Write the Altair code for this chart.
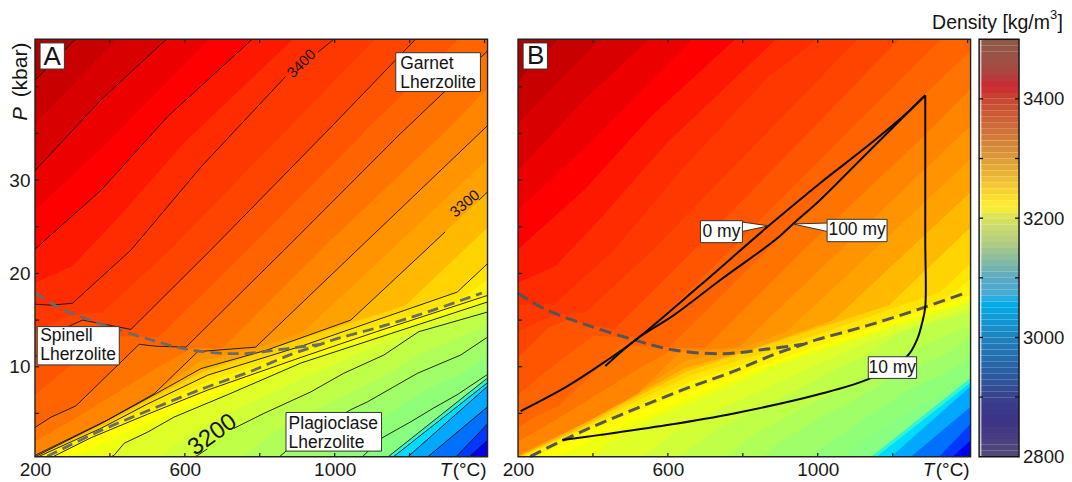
import altair as alt
import pandas as pd

FONT = "Liberation Sans"
T_DOM = [200, 1408]
P_DOM = [0.35, 45.1]

# ---- isopycnals: (T in deg C, P in kbar)
c3000 = [(200, -30), (1420, -30)]
c3025 = [(200, -24), (1358, 0.3), (1405, 2.0), (1420, 2.6)]
c3050 = [(200, -23), (1323, 0.3), (1405, 3.75), (1420, 4.4)]
c3075 = [(200, -22), (1247, 0.3), (1405, 5.6), (1420, 6.1)]
c3100 = [(200, -21), (1194, 0.3), (1405, 7.8), (1420, 8.3)]
c3112 = [(200, -20), (1155, 0.3), (1405, 8.2), (1420, 8.6)]
c3125 = [(200, -19), (1141, 0.3), (1405, 8.7), (1420, 9.0)]
c3150 = [(200, -15), (1074, 0.35), (1123, 2.3), (1203, 4.1), (1265, 5.6), (1327, 7.0), (1405, 9.1), (1420, 9.4)]
c3162 = [(200, -14), (962, 0.0), (1100, 3.8), (1240, 7.5), (1330, 9.1), (1420, 11.4)]
c3175 = [(200, -12), (851, 0.3), (900, 2.0), (1043, 5.4), (1088, 6.25), (1221, 9.3), (1336, 11.25), (1405, 13.1), (1420, 13.5)]
c3187 = [(200, -10), (740, 0.0), (840, 3.0), (1000, 6.4), (1130, 9.0), (1230, 11.4), (1420, 14.7)]
c3200 = [(200, -8), (634, 0.5), (660, 1.2), (731, 3.4), (811, 5.0), (936, 7.3), (1024, 9.3), (1131, 11.25), (1224, 13.75), (1420, 16.0)]
c3212 = [(200, -5), (520, 0.0), (620, 3.0), (730, 5.3), (930, 9.0), (1130, 12.6), (1420, 16.5)]
c3225 = [(200, -3), (411, 0.5), (438, 1.8), (501, 3.0), (571, 4.6), (714, 7.0), (910, 10.4), (1420, 17.1)]
c3237 = [(200, -1), (330, 0.9), (500, 4.0), (714, 7.6), (910, 10.7), (1420, 17.4)]
c3250 = [(200, -0.5), (230, 0.0), (350, 2.4), (500, 4.9), (661, 7.5), (910, 11.0), (1100, 13.6), (1420, 17.8)]
c3262 = [(200, 0.1), (360, 3.0), (500, 5.5), (660, 8.4), (914, 11.8), (1330, 17.0), (1420, 19.7)]
c3275 = [(200, 0.2), (376, 3.4), (500, 6.0), (661, 9.1), (918, 12.3), (1327, 18.0), (1420, 21.5)]
c3287 = [(200, 0.3), (376, 3.6), (500, 6.4), (650, 9.5), (860, 12.3), (1190, 16.6), (1420, 25.4)]
c3300 = [(200, 0.35), (376, 3.9), (509, 6.8), (643, 9.8), (820, 11.8), (1043, 15.0), (1243, 22.5), (1295, 24.46), (1385, 27.85), (1420, 29.2)]
c3312 = [(200, 0.45), (376, 4.1), (509, 7.0), (643, 10.6), (800, 12.1), (915, 13.7), (1150, 22.5), (1420, 32.7)]
c3325 = [(200, 0.5), (394, 4.3), (518, 7.1), (634, 11.6), (660, 11.7), (789, 12.1), (1060, 22.5), (1420, 36.3)]
c3337 = [(200, 2.0), (300, 4.3), (394, 6.6), (518, 9.7), (620, 12.0), (700, 12.0), (962, 22.5), (1290, 35.0), (1420, 40.3)]
c3350 = [(200, 3.5), (243, 4.6), (309, 5.8), (478, 12.4), (523, 12.2), (603, 12.1), (865, 22.5), (1176, 35.0), (1420, 44.3)]
c3362 = [(200, 7.0), (290, 10.0), (400, 13.3), (530, 13.2), (767, 22.5), (1100, 36.0), (1330, 45.1), (1350, 46)]
c3375 = [(200, 11.0), (278, 14.1), (327, 15.0), (456, 14.0), (669, 22.5), (998, 36.0), (1216, 45.1), (1240, 46)]
c3387 = [(200, 13.8), (300, 15.6), (380, 15.8), (560, 22.5), (1107, 45.1), (1130, 46)]
c3400 = [(200, 16.7), (243, 16.6), (300, 16.8), (456, 22.5), (643, 31.4), (869, 41.1), (955, 43.7), (998, 45.1), (1020, 46)]
c3412 = [(200, 19.0), (300, 20.8), (416, 25.7), (598, 34.0), (889, 45.1), (910, 46)]
c3425 = [(200, 22.6), (376, 28.9), (554, 36.8), (780, 45.1), (800, 46)]
c3437 = [(200, 26.8), (380, 33.5), (665, 45.1), (690, 46)]
c3450 = [(200, 31.0), (376, 38.6), (551, 45.1), (570, 46)]
c3462 = [(200, 36.0), (290, 39.8), (440, 46)]
c3475 = [(200, 40.7), (330, 46)]

band_lines = [c3000, c3025, c3050, c3075, c3100, c3112, c3125, c3150, c3162, c3175, c3187, c3200,
              c3212, c3225, c3237, c3250, c3262, c3275, c3287, c3300, c3312, c3325, c3337, c3350,
              c3362, c3375, c3387, c3400, c3412, c3425, c3437, c3450, c3462, c3475]
band_levels = [3000, 3025, 3050, 3075, 3100, 3112, 3125, 3150, 3162, 3175, 3187, 3200,
               3212, 3225, 3237, 3250, 3262, 3275, 3287, 3300, 3312, 3325, 3337, 3350,
               3362, 3375, 3387, 3400, 3412, 3425, 3437, 3450, 3462, 3475]
band_fill = ["#0000f0", "#0038ff", "#0070ff", "#00a8ff", "#00dcff", "#30f5d0", "#88ff80", "#90ff78",
             "#a0ff68", "#b0ff58", "#c0ff48", "#d0ff38", "#e0ff28", "#eeff10", "#ffff00", "#fff400",
             "#ffe600", "#ffd400", "#ffba00", "#ffa200", "#ff9400", "#ff8400", "#ff7400", "#ff6400",
             "#ff5400", "#ff4400", "#ff3800", "#ff2c00", "#ff1800", "#ff0000", "#ec0000", "#d80000",
             "#c80000", "#b00000"]

contour_levels = [3025, 3050, 3075, 3100, 3112, 3125, 3150, 3175, 3200, 3225, 3250, 3275, 3300, 3325,
                  3350, 3375, 3400, 3425, 3450, 3475]
contour_gaps = {3400: (869, 955), 3300: (1295, 1385), 3200: (660, 731)}

# ---- phase boundaries and P-T paths
spinel_T = [200, 268, 375, 508, 615, 749, 865, 962]
spinel_P = [17.9, 16.25, 14.6, 12.9, 11.8, 11.4, 11.9, 12.4]
plag_T = [233, 367, 508, 651, 775, 882, 962, 998, 1132, 1265, 1393]
plag_P = [0.4, 3.0, 5.4, 7.7, 9.5, 11.3, 12.4, 12.9, 14.4, 16.1, 17.9]

path0_T = [207, 331, 438, 518, 687, 869, 1007, 1131, 1238, 1287]
path0_P = [5.25, 7.9, 10.7, 13.0, 18.75, 25.1, 29.7, 33.6, 37.2, 39.1]
path10_T = [1287, 1287, 1287, 1278, 1265, 1238, 1140, 998, 776, 598, 420, 318]
path10_P = [39.1, 23.6, 16.4, 14.6, 12.9, 11.1, 8.75, 7.0, 5.0, 3.75, 2.7, 2.15]
path100_T = [433, 518, 615, 740, 887, 934, 1007, 1122, 1287]
path100_P = [10.07, 13.0, 15.5, 19.3, 23.6, 25.3, 27.9, 32.5, 39.1]

# ---- annotation boxes: T0, T1, P0, P1
boxesA = pd.DataFrame({"t0": [213.6, 1163, 206, 870], "t1": [278.5, 1389, 425, 1125],
                       "p0": [44.7, 43.65, 14.3, 5.1], "p1": [41.9, 39.5, 10.2, 0.96]})
boxesB = pd.DataFrame({"t0": [213.6, 687, 1025, 1135], "t1": [278.5, 799, 1185, 1264],
                       "p0": [44.7, 25.65, 25.8, 11.07], "p1": [41.9, 23.3, 23.4, 8.75]})
textA = pd.DataFrame({"t": [214, 214, 877, 877, 1175, 1175],
                      "p": [13.3, 11.25, 3.9, 1.8, 42.4, 40.4],
                      "s": ["Spinell", "Lherzolite", "Plagioclase", "Lherzolite", "Garnet", "Lherzolite"]})
textB = pd.DataFrame({"t": [743, 1105, 1199], "p": [24.4, 24.6, 9.9], "s": ["0 my", "100 my", "10 my"]})
wedge0 = pd.DataFrame({"t": [799, 869], "a": [25.5, 25.1], "b": [24.5, 25.1]})
wedge100 = pd.DataFrame({"t": [934, 1025], "a": [25.3, 25.4], "b": [25.3, 24.5]})

x_ticks = [400, 600, 800, 1000, 1200, 1400]
y_ticks = [5, 10, 15, 20, 25, 30, 35, 40]

# ---- colour bar
bar_levels = list(range(2800, 3500, 10))
bar_dom = [2800, 2860, 2900, 2950, 3000, 3060, 3070, 3100, 3160, 3200, 3220, 3250, 3300, 3350, 3400, 3420, 3450, 3500]
bar_rng = ["rgb(85,75,120)", "rgb(60,50,135)", "rgb(55,65,140)", "rgb(40,100,165)", "rgb(30,130,190)",
           "rgb(0,175,235)", "rgb(70,170,215)", "rgb(90,170,195)", "rgb(180,205,130)", "rgb(215,225,95)",
           "rgb(255,240,45)", "rgb(245,205,50)", "rgb(220,155,55)", "rgb(205,110,55)", "rgb(200,70,50)",
           "rgb(205,40,50)", "rgb(165,75,65)", "rgb(140,90,75)"]
bar_ticks = [2900, 3000, 3100, 3200, 3300, 3400]

# ---- tables
rows = []
for lv, line in zip(band_levels, band_lines):
    for t, p in line:
        rows.append({"T": t, "P": p, "top": 60, "level": lv})
bands_df = pd.DataFrame(rows)

rows = []
for lv, line in zip(band_levels, band_lines):
    if lv not in contour_levels:
        continue
    seg = 0
    gap = contour_gaps.get(lv)
    for t, p in line:
        if gap and t == gap[1]:
            seg += 1
        rows.append({"T": t, "P": p, "seg": f"{lv}-{seg}"})
lines_df = pd.DataFrame(rows)

x_scale = alt.Scale(domain=T_DOM, nice=False, zero=False)
y_scale = alt.Scale(domain=P_DOM, nice=False, zero=False)
X_AX = alt.Axis(values=[200, 600, 1000], title=None, ticks=False, domain=False,
                grid=False, labelFont=FONT, labelFontSize=19, labelColor="#1a1a1a", labelFlush=False,
                labelPadding=4, labelOverlap=False, format="d")
Y_AX = alt.Axis(values=[10, 20, 30], title=None, ticks=False, domain=False, grid=False, labelFont=FONT,
                labelFontSize=19, labelColor="#1a1a1a", labelPadding=5)


def build_panel(show_y):
    yax = Y_AX if show_y else None

    def fx(name):
        return alt.X(name, scale=x_scale, axis=X_AX)

    def fy(name):
        return alt.Y(name, scale=y_scale, axis=yax)

    def line(ts, ps, color, width, dash=None):
        df = pd.DataFrame({"T": ts, "P": ps, "i": range(len(ts))})
        kw = {"strokeDash": dash} if dash else {}
        return alt.Chart(df).mark_line(color=color, strokeWidth=width, interpolate="catmull-rom", **kw).encode(
            x=fx("T:Q"), y=fy("P:Q"), order="i:Q")

    def boxes(df):
        return alt.Chart(df).mark_rect(fill="white", stroke="#333333", strokeWidth=1).encode(
            x=fx("t0:Q"), x2="t1:Q", y=fy("p0:Q"), y2="p1:Q")

    def label(t, p, s, size, align="center", angle=0, style="normal"):
        df = pd.DataFrame({"t": [t], "p": [p], "s": [s]})
        return alt.Chart(df).mark_text(font=FONT, fontSize=size, align=align, baseline="middle", angle=angle,
                                       fontStyle=style, color="#141414").encode(
            x=fx("t:Q"), y=fy("p:Q"), text="s:N")

    def texts(df, align):
        return alt.Chart(df).mark_text(font=FONT, fontSize=17.5, align=align, baseline="middle",
                                       color="#141414").encode(x=fx("t:Q"), y=fy("p:Q"), text="s:N")

    def wedge(df):
        fill = alt.Chart(df).mark_area(color="white").encode(x=fx("t:Q"), y=fy("a:Q"), y2="b:Q")
        up = alt.Chart(df).mark_line(color="#222222", strokeWidth=0.9).encode(x=fx("t:Q"), y=fy("a:Q"))
        lo = alt.Chart(df).mark_line(color="#222222", strokeWidth=0.9).encode(x=fx("t:Q"), y=fy("b:Q"))
        return [fill, up, lo]

    bg = alt.Chart(bands_df).mark_area(clip=True, interpolate="linear").encode(
        x=fx("T:Q"), y=fy("P:Q"), y2="top:Q",
        color=alt.Color("level:O", scale=alt.Scale(domain=band_levels, range=band_fill), legend=None),
    )

    tk_x = pd.DataFrame({"T": x_ticks + x_ticks, "p0": [P_DOM[0]] * 6 + [P_DOM[1]] * 6,
                         "p1": [P_DOM[0] + 0.42] * 6 + [P_DOM[1] - 0.42] * 6})
    tk_y = pd.DataFrame({"P": y_ticks, "t0": [200] * 8, "t1": [211] * 8})
    fr = pd.DataFrame({"a": [T_DOM[0]], "b": [T_DOM[1]], "c": [P_DOM[0]], "d": [P_DOM[1]]})
    furniture = [
        alt.Chart(tk_x).mark_rule(color="#222222", strokeWidth=1.3).encode(x=fx("T:Q"), y=fy("p0:Q"), y2="p1:Q"),
        alt.Chart(tk_y).mark_rule(color="#222222", strokeWidth=1.3).encode(x=fx("t0:Q"), x2="t1:Q", y=fy("P:Q")),
        alt.Chart(fr).mark_rect(filled=False, stroke="#222222", strokeWidth=1.4).encode(
            x=fx("a:Q"), x2="b:Q", y=fy("c:Q"), y2="d:Q"),
        label(1296, -1.05, "T", 19, style="italic"),
        label(1315, -1.05, "(°C)", 19, align="left"),
    ]
    if show_y:
        contours = alt.Chart(lines_df).mark_line(color="#111111", strokeWidth=0.9, clip=True).encode(
            x=fx("T:Q"), y=fy("P:Q"), detail="seg:N", order="T:Q")
        return alt.layer(
            bg, contours,
            line(spinel_T, spinel_P, "#6a6a6a", 2.8, [11, 6]),
            line(plag_T, plag_P, "#6a6a6a", 2.8, [11, 6]),
            boxes(boxesA), texts(textA, "left"),
            label(246, 43.2, "A", 26),
            label(911, 42.5, "3400", 15, angle=315),
            label(1347, 27.5, "3300", 15, angle=320),
            label(674, 2.7, "3200", 24, angle=324),
            label(162, 41.8, "(kbar)", 21, angle=270),
            label(162, 37.1, "P", 20, angle=270, style="italic"),
            *furniture,
        ).properties(width=453, height=418)
    return alt.layer(
        bg,
        line(spinel_T, spinel_P, "#555555", 3, [12, 6]),
        line(plag_T, plag_P, "#555555", 3, [12, 6]),
        line(path0_T, path0_P, "#0a0a0a", 2),
        line(path100_T, path100_P, "#0a0a0a", 2),
        line(path10_T, path10_P, "#0a0a0a", 2),
        *wedge(wedge0), *wedge(wedge100),
        boxes(boxesB), texts(textB, "center"),
        label(247, 43.3, "B", 26),
        *furniture,
    ).properties(width=453, height=418)


panelA = build_panel(True)
panelB = build_panel(False)

# ---- colour bar
bar_df = pd.DataFrame({"v0": bar_levels, "v1": [v + 10 for v in bar_levels]})
bar_df["mid"] = bar_df["v0"] + 5
bar_scale = alt.Scale(domain=[2800, 3500], nice=False, zero=False)
u_scale = alt.Scale(domain=[0, 1], nice=False)
BAR_AX = alt.Axis(orient="right", values=[2800, 3000, 3200, 3400], title=None, ticks=False, domain=False,
                  grid=False, labelFont=FONT, labelFontSize=18.6, labelColor="#1a1a1a", labelPadding=3.5,
                  labelFlush=False, labelOverlap=False, format="d")


def by(name):
    return alt.Y(name, scale=bar_scale, axis=BAR_AX)


def bx(name):
    return alt.X(name, scale=u_scale, axis=None)


def bar_text(u, v, s, size, align):
    df = pd.DataFrame({"u": [u], "v": [v], "s": [s]})
    return alt.Chart(df).mark_text(font=FONT, fontSize=size, align=align, baseline="middle",
                                   color="#141414").encode(x=bx("u:Q"), y=by("v:Q"), text="s:N")


bar_rects = alt.Chart(bar_df).mark_rect().encode(
    y=by("v0:Q"), y2="v1:Q",
    color=alt.Color("mid:Q", scale=alt.Scale(domain=bar_dom, range=bar_rng, interpolate="rgb"), legend=None),
)
strip = alt.Chart(pd.DataFrame({"u0": [0], "u1": [0.06], "a": [2800], "b": [3500]})).mark_rect(
    fill="white", opacity=0.65).encode(x=bx("u0:Q"), x2="u1:Q", y=by("a:Q"), y2="b:Q")
tk_l = alt.Chart(pd.DataFrame({"v": bar_ticks, "u0": [0] * 6, "u1": [0.1] * 6})).mark_rule(
    color="#111111", strokeWidth=1.3).encode(x=bx("u0:Q"), x2="u1:Q", y=by("v:Q"))
tk_r = alt.Chart(pd.DataFrame({"v": bar_ticks, "u0": [0.9] * 6, "u1": [1] * 6})).mark_rule(
    color="#111111", strokeWidth=1.3).encode(x=bx("u0:Q"), x2="u1:Q", y=by("v:Q"))
bar_frame = alt.Chart(pd.DataFrame({"u0": [0], "u1": [1], "a": [2800], "b": [3500]})).mark_rect(
    filled=False, stroke="#111111", strokeWidth=1.4).encode(x=bx("u0:Q"), x2="u1:Q", y=by("a:Q"), y2="b:Q")
panelC = alt.layer(
    bar_rects, strip, tk_l, tk_r, bar_frame,
    bar_text(1.775, 3527, "Density [kg/m", 19.5, "right"),
    bar_text(1.775, 3540, "3", 13, "left"),
    bar_text(2.1, 3527, "]", 19.5, "right"),
).properties(width=40, height=418)

right = alt.hconcat(panelB, panelC, spacing=8.5, bounds="flush")
chart = alt.hconcat(panelA, right, spacing=30.5, bounds="flush").resolve_scale(color="independent").properties(
    padding={"left": 0, "top": 1, "right": 0, "bottom": 0}
).configure_view(stroke=None)

chart.save("out.html", embed_options={"renderer": "svg", "actions": False})
